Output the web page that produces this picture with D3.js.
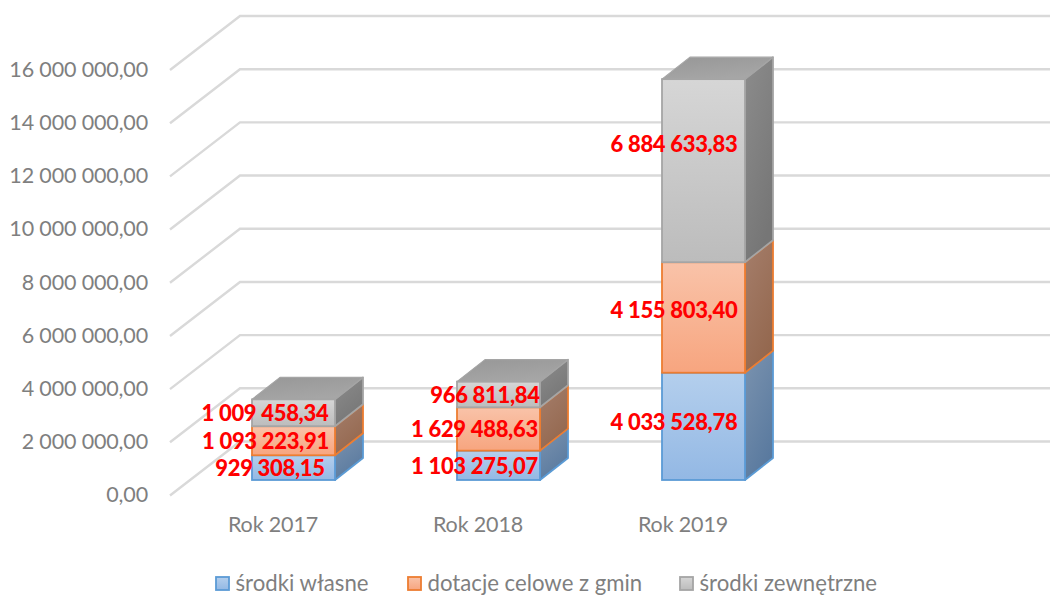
<!DOCTYPE html>
<html lang="en">
<head>
  <meta charset="UTF-8">
  <title>Wydatki 2017-2019</title>
  <style>
    html, body { margin: 0; padding: 0; background: #fff; }
    svg { display: block; }
    text { font-family: Lato, "Open Sans", sans-serif; }
    .axis text { font-size: 21.5px; fill: #7f7f7f; letter-spacing: -0.15px; }
    .legend text { font-size: 22.2px; fill: #7f7f7f; }
    .grid { fill: none; stroke: #d9d9d9; stroke-width: 2.4; }
    .label { font-size: 22px; font-weight: 900; fill: #ff0000; text-anchor: middle; dominant-baseline: central; letter-spacing: -0.3px; }
  </style>
</head>
<body>
  <div id="chart"></div>

  <script src="https://d3js.org/d3.v7.min.js"></script>
  <script>
    // Values
    const years = ["Rok 2017", "Rok 2018", "Rok 2019"];
    const seriesNames = ["środki własne", "dotacje celowe z gmin", "środki zewnętrzne"];
    const srodkiWlasne = [929308.15, 1103275.07, 4033528.78];
    const dotacje = [1093223.91, 1629488.63, 4155803.40];
    const zewnetrzne = [1009458.34, 966811.84, 6884633.83];
    const axisTicks = [0, 2000000, 4000000, 6000000, 8000000, 10000000, 12000000, 14000000, 16000000];

    const seriesValues = [srodkiWlasne, dotacje, zewnetrzne];

    // Colours per series: edge, front top/bottom, side top/bottom
    const colors = [
      { edge: "#5b9bd5", front: ["#b4cfed", "#93b8e4"], side: ["#7b93af", "#5a7a9f"] },
      { edge: "#ed7d31", front: ["#f9c3a9", "#f7a57f"], side: ["#a57e6b", "#94684f"] },
      { edge: "#a5a5a5", front: ["#d6d6d6", "#bcbcbc"], side: ["#8c8c8c", "#767676"] }
    ];
    const topFace = ["#979797", "#a6a6a6"];

    // Hand placed label shift, [dx, dy] from the middle of the front face
    const labelShift = [
      [[-23.5, 0], [-28, 0], [-28.5, 0]],
      [[-24, 0], [-24, 0], [-13.5, 0]],
      [[-29.5, -5], [-29.5, -8], [-29.5, -27]]
    ];

    const width = 1050, height = 595;
    const barWidth = 83;
    const depthX = 28, depthY = 22;     // bar depth
    const wallX = 70, wallY = 54;       // side wall of the chart
    const wallLeft = 170;
    const floorShift = 15.5;            // left end of gridline sits below the bar plane

    const svg = d3.select("#chart").append("svg")
      .attr("width", width)
      .attr("height", height);

    const pl = d3.formatLocale({ decimal: ",", thousands: " ", grouping: [3], currency: ["", ""] });
    const fmt = pl.format(",.2f");

    const y = d3.scaleLinear().domain([0, 16000000]).range([480, 54.5]);
    const x = d3.scalePoint().domain(years).range([293.5, 703.5]);

    // gradients
    const defs = svg.append("defs");
    function gradient(id, stops, diagonal) {
      const g = defs.append("linearGradient").attr("id", id)
        .attr("x1", 0).attr("y1", 0)
        .attr("x2", diagonal ? 0.5 : 0).attr("y2", 1);
      g.append("stop").attr("offset", 0).attr("stop-color", stops[0]);
      g.append("stop").attr("offset", 1).attr("stop-color", stops[1]);
    }
    colors.forEach((c, i) => {
      gradient("front" + i, c.front);
      gradient("side" + i, c.side, true);
    });
    gradient("top", topFace, true);

    // gridlines: along the side wall, then along the back wall
    const gridLine = d3.line();
    svg.append("g").selectAll("path")
      .data(axisTicks)
      .join("path")
      .attr("class", "grid")
      .attr("d", d => {
        const yl = y(d) + floorShift;
        return gridLine([[wallLeft, yl], [wallLeft + wallX, yl - wallY], [width, yl - wallY]]);
      });

    // axes
    const yAxis = svg.append("g")
      .attr("class", "axis")
      .attr("transform", "translate(156," + (floorShift - 0.5) + ")")
      .call(d3.axisLeft(y).tickValues(axisTicks).tickSize(0).tickPadding(8).tickFormat(fmt));
    yAxis.select(".domain").remove();

    const xAxis = svg.append("g")
      .attr("class", "axis")
      .attr("transform", "translate(-21,509)")
      .call(d3.axisBottom(x).tickSize(0).tickPadding(8));
    xAxis.select(".domain").remove();

    // stacked 3d bars
    const rows = years.map((yr, i) => {
      const r = { year: yr };
      seriesNames.forEach((s, k) => { r[s] = seriesValues[k][i]; });
      return r;
    });
    const stacked = d3.stack().keys(seriesNames)(rows);

    const poly = pts => pts.map(p => p.join(",")).join(" ");

    const bars = svg.append("g");
    years.forEach((yr, i) => {
      const x0 = x(yr) - barWidth / 2, x1 = x0 + barWidth;
      stacked.forEach((layer, k) => {
        const yb = y(layer[i][0]), yt = y(layer[i][1]);
        const c = colors[k];
        bars.append("polygon")
          .attr("points", poly([[x1, yb], [x1 + depthX, yb - depthY], [x1 + depthX, yt - depthY], [x1, yt]]))
          .attr("fill", "url(#side" + k + ")")
          .attr("stroke", c.edge).attr("stroke-width", 1.8).attr("stroke-linejoin", "round");
        bars.append("rect")
          .attr("x", x0).attr("y", yt)
          .attr("width", barWidth).attr("height", yb - yt)
          .attr("fill", "url(#front" + k + ")")
          .attr("stroke", c.edge).attr("stroke-width", 1.8);
        if (k === stacked.length - 1) {
          bars.append("polygon")
            .attr("points", poly([[x0, yt], [x0 + depthX, yt - depthY], [x1 + depthX, yt - depthY], [x1, yt]]))
            .attr("fill", "url(#top)")
            .attr("stroke", c.edge).attr("stroke-width", 1.2).attr("stroke-linejoin", "round");
        }
      });
    });

    // data labels
    const labels = svg.append("g");
    stacked.forEach((layer, k) => {
      labels.selectAll(null)
        .data(layer)
        .join("text")
        .attr("class", "label")
        .attr("x", (d, i) => x(years[i]) + labelShift[i][k][0])
        .attr("y", (d, i) => (y(d[0]) + y(d[1])) / 2 + labelShift[i][k][1])
        .text((d, i) => fmt(seriesValues[k][i]));
    });

    // legend
    const legendX = [216, 408, 680];
    const legend = svg.append("g").attr("class", "legend")
      .selectAll("g")
      .data(seriesNames)
      .join("g")
      .attr("transform", (d, i) => "translate(" + legendX[i] + ",577)");
    legend.append("rect")
      .attr("width", 13).attr("height", 13)
      .attr("fill", (d, i) => "url(#front" + i + ")")
      .attr("stroke", (d, i) => colors[i].edge)
      .attr("stroke-width", 1.8);
    legend.append("text")
      .attr("x", 19.5).attr("y", 13.5)
      .text(d => d);
  </script>
</body>
</html>
